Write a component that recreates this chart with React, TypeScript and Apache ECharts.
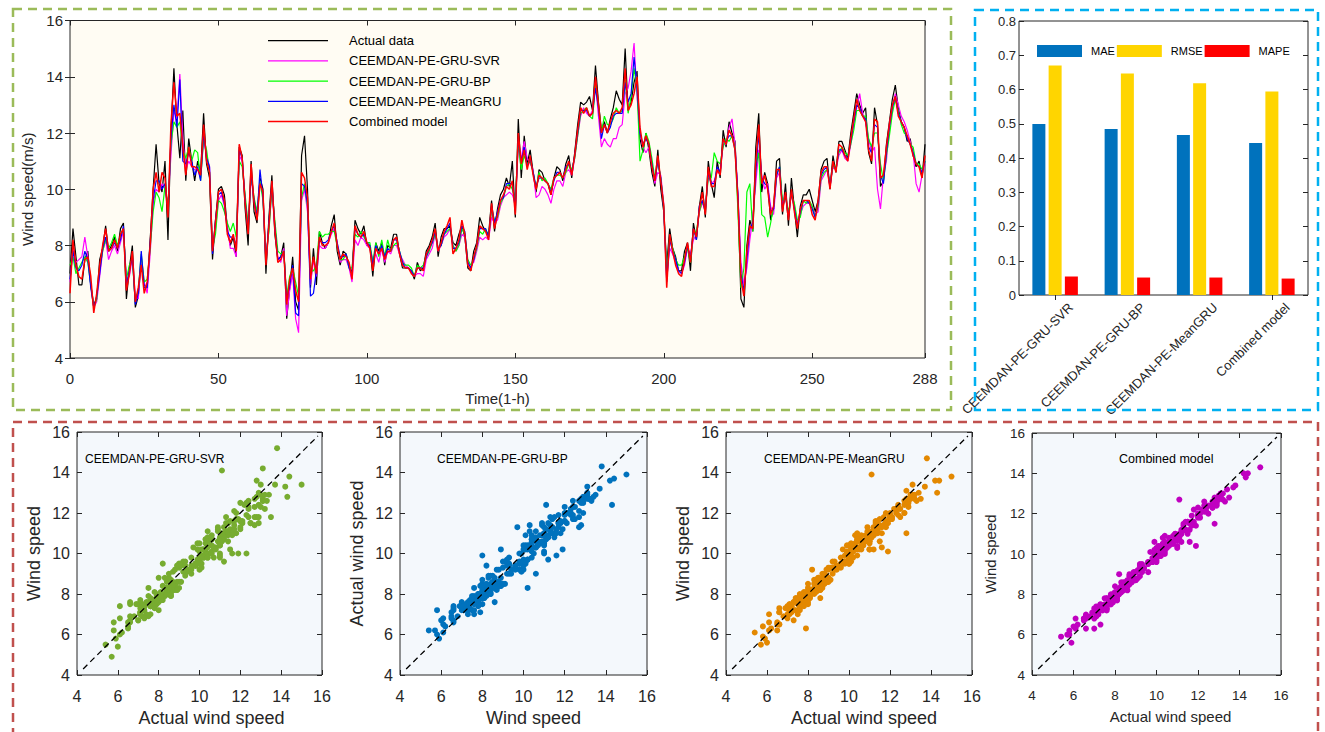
import React, { useEffect, useRef } from "react";
import * as echarts from "echarts";

// Hourly wind speed (m/s), test horizon t = 0..288
const actual = [
  7.0, 8.6, 7.6, 6.6, 6.6, 7.5, 7.8, 6.6, 5.9, 6.1,
  7.5, 7.9, 8.7, 7.8, 8.0, 8.3, 7.8, 8.6, 8.8, 6.1,
  7.2, 8.0, 5.8, 6.2, 7.4, 6.6, 6.5, 8.2, 10.0, 11.6,
  10.2, 9.9, 11.0, 8.2, 12.0, 14.3, 12.3, 11.1, 12.8, 10.3,
  11.8, 11.0, 10.3, 11.0, 10.6, 12.7, 10.9, 10.4, 7.5, 8.9,
  10.0, 10.1, 9.8, 8.6, 8.0, 8.3, 7.6, 11.5, 11.2, 9.3,
  8.0, 11.0, 9.2, 8.8, 10.4, 10.0, 7.0, 9.0, 10.5, 8.4,
  7.5, 7.6, 8.1, 5.4, 6.5, 7.6, 6.0, 5.7, 11.2, 11.9,
  10.0, 6.5, 7.9, 6.6, 8.5, 8.1, 7.9, 8.1, 8.7, 9.1,
  7.8, 7.3, 7.8, 7.7, 7.3, 7.0, 8.9, 8.6, 8.4, 8.7,
  8.0, 8.0, 6.9, 8.1, 7.8, 8.1, 7.3, 8.0, 7.9, 8.4,
  8.4, 7.7, 7.2, 7.2, 7.2, 7.1, 6.8, 7.4, 7.1, 7.2,
  7.8, 8.0, 8.3, 8.8, 7.6, 8.3, 8.6, 8.6, 8.7, 8.1,
  8.0, 8.4, 8.7, 8.3, 7.2, 7.1, 7.8, 8.1, 9.0, 8.7,
  8.5, 8.4, 9.6, 8.5, 9.3, 9.8, 10.0, 10.4, 10.1, 11.0,
  9.0, 12.5, 10.4, 11.9, 10.9, 11.4, 10.6, 9.9, 10.7, 10.6,
  10.3, 10.2, 9.8, 10.4, 10.8, 10.7, 10.3, 10.9, 11.2, 10.4,
  11.3, 12.3, 13.1, 13.0, 13.1, 13.3, 12.8, 14.4, 13.1, 12.1,
  12.4, 12.0, 12.5, 12.9, 13.5, 13.2, 13.0, 15.0, 12.8, 13.1,
  13.8, 14.2, 11.8, 11.3, 12.0, 11.4, 10.6, 10.1, 11.4, 10.0,
  9.2, 7.3, 8.6, 7.9, 7.6, 7.1, 7.1, 7.8, 8.1, 7.1,
  8.8, 8.2, 9.4, 10.1, 9.0, 11.0, 10.2, 9.7, 11.0, 10.4,
  12.1, 11.5, 12.4, 12.0, 11.7, 9.6, 6.1, 5.8, 8.0, 8.9,
  8.5, 11.5, 12.7, 9.9, 10.6, 10.2, 8.9, 9.3, 11.0, 11.1,
  9.1, 10.2, 8.7, 10.4, 9.3, 8.3, 9.4, 9.8, 9.8, 10.0,
  9.6, 9.2, 9.6, 10.7, 11.0, 11.1, 10.0, 11.2, 10.6, 11.7,
  11.7, 11.4, 11.1, 12.0, 12.7, 13.4, 13.0, 12.7, 12.9, 11.3,
  10.9, 12.9, 12.3, 10.1, 10.3, 11.6, 12.4, 13.2, 13.7, 12.9,
  12.4, 12.2, 11.7, 11.8, 11.2, 10.8, 11.0, 10.4, 11.6,
];

const svr = [
  6.7, 7.9, 7.4, 7.5, 7.6, 8.3, 7.6, 6.6, 5.8, 6.0,
  6.9, 7.8, 8.2, 7.5, 7.8, 8.0, 7.7, 8.1, 8.5, 6.8,
  6.9, 7.6, 6.2, 6.1, 7.6, 6.7, 6.3, 7.7, 9.5, 10.0,
  9.9, 10.2, 10.0, 9.5, 11.2, 12.8, 12.5, 14.1, 11.8, 10.7,
  11.0, 10.8, 10.7, 10.7, 10.4, 11.8, 11.2, 10.8, 7.9, 8.6,
  9.6, 9.8, 9.4, 8.7, 7.9, 7.9, 7.6, 11.2, 11.0, 9.6,
  8.8, 10.4, 9.6, 9.2, 10.3, 9.8, 7.5, 8.6, 10.0, 8.6,
  7.6, 7.4, 7.9, 5.5, 6.4, 7.0, 5.4, 4.9, 9.6, 10.0,
  9.2, 6.6, 7.5, 6.9, 8.0, 7.9, 7.9, 8.1, 8.4, 8.6,
  8.1, 7.4, 7.5, 7.5, 7.2, 6.7, 8.2, 8.0, 8.3, 8.2,
  8.0, 7.9, 7.5, 7.7, 7.4, 7.9, 7.4, 7.8, 7.7, 8.0,
  8.0, 7.7, 7.5, 7.3, 7.2, 7.1, 6.9, 7.0, 7.0, 6.9,
  7.5, 7.7, 7.9, 8.4, 7.8, 8.0, 8.3, 8.4, 8.6, 8.0,
  7.8, 8.0, 8.4, 8.3, 7.4, 7.3, 7.4, 7.8, 8.3, 8.2,
  8.3, 8.2, 9.0, 8.8, 8.9, 9.4, 9.7, 9.8, 9.9, 9.8,
  9.5, 11.5, 11.1, 11.7, 11.1, 10.9, 10.7, 9.7, 9.8, 10.1,
  10.0, 9.8, 9.5, 10.0, 10.3, 10.3, 10.1, 10.6, 10.7, 10.5,
  11.1, 11.9, 12.6, 12.9, 12.7, 12.6, 12.8, 13.8, 12.6, 11.5,
  11.8, 11.6, 11.5, 11.8, 11.8, 12.2, 12.3, 13.4, 13.6, 14.2,
  15.2, 13.3, 12.0, 11.5, 11.3, 11.5, 10.9, 10.2, 10.6, 10.5,
  9.5, 6.8, 7.9, 7.7, 7.4, 7.1, 7.0, 7.3, 7.9, 7.7,
  8.2, 8.4, 9.2, 9.5, 9.3, 10.5, 10.2, 10.3, 10.6, 10.6,
  11.6, 11.6, 12.2, 12.5, 11.6, 9.8, 7.4, 6.6, 7.2, 8.2,
  9.0, 10.2, 11.4, 10.5, 10.0, 10.2, 9.4, 9.1, 10.4, 10.6,
  9.4, 9.8, 9.1, 9.8, 9.4, 8.8, 9.1, 9.4, 9.5, 9.5,
  9.4, 9.1, 9.2, 10.3, 10.5, 10.7, 10.1, 10.8, 10.7, 11.2,
  11.4, 11.1, 11.0, 11.6, 12.3, 12.9, 13.4, 12.7, 12.4, 11.8,
  11.3, 11.5, 10.0, 9.3, 10.5, 11.0, 12.3, 12.9, 13.4, 13.0,
  12.6, 12.4, 12.1, 11.7, 11.3, 10.2, 9.9, 10.5, 10.9,
];

const bp = [
  7.3, 7.6, 7.0, 7.2, 7.4, 7.6, 7.4, 6.6, 5.8, 6.1,
  7.2, 7.8, 8.2, 7.9, 8.1, 8.4, 8.0, 8.3, 8.6, 6.8,
  7.3, 7.5, 6.0, 6.4, 7.7, 6.7, 6.8, 7.9, 9.2, 9.9,
  9.7, 9.2, 10.1, 9.4, 11.6, 12.4, 12.2, 12.4, 11.4, 11.1,
  11.5, 11.0, 11.4, 11.3, 10.3, 11.8, 11.4, 10.6, 7.9, 8.4,
  9.6, 9.5, 9.2, 8.8, 8.5, 8.8, 8.3, 11.0, 10.8, 9.8,
  8.7, 10.5, 9.7, 9.2, 10.3, 9.6, 7.6, 8.5, 10.0, 8.9,
  7.8, 7.7, 7.8, 6.2, 6.9, 7.2, 6.7, 6.2, 9.7, 10.2,
  9.4, 7.1, 7.1, 7.3, 8.5, 8.3, 8.4, 8.4, 8.5, 8.5,
  8.0, 7.5, 7.5, 7.7, 7.2, 7.2, 8.4, 8.3, 8.5, 8.3,
  8.1, 8.1, 7.4, 8.1, 7.6, 8.2, 7.6, 8.2, 7.8, 8.0,
  8.1, 7.8, 7.4, 7.3, 7.3, 7.2, 6.9, 7.3, 7.2, 7.3,
  7.6, 7.8, 8.1, 8.4, 7.9, 8.0, 8.4, 8.5, 8.6, 8.0,
  7.8, 8.0, 8.6, 8.4, 7.5, 7.3, 7.5, 7.9, 8.5, 8.4,
  8.6, 8.3, 9.3, 8.9, 9.0, 9.5, 9.7, 10.1, 10.2, 10.0,
  9.6, 11.7, 10.7, 11.2, 10.9, 11.0, 10.6, 10.0, 10.6, 10.3,
  10.4, 10.2, 10.0, 10.4, 10.5, 10.5, 10.4, 10.6, 10.9, 10.7,
  11.1, 11.9, 12.7, 12.8, 12.9, 12.6, 12.5, 13.7, 13.0, 12.0,
  12.6, 12.3, 12.3, 12.5, 12.9, 12.7, 12.8, 13.9, 12.7, 13.3,
  14.3, 13.6, 11.0, 11.4, 12.0, 11.7, 11.1, 10.4, 11.0, 10.4,
  9.4, 7.0, 8.3, 7.9, 7.5, 7.3, 7.3, 7.6, 7.9, 7.4,
  8.5, 8.5, 9.2, 9.6, 9.3, 10.4, 10.4, 11.3, 11.0, 10.9,
  11.5, 11.8, 11.7, 11.9, 11.5, 9.2, 6.5, 7.2, 9.9, 10.2,
  8.5, 10.8, 11.3, 9.1, 9.0, 8.3, 8.8, 9.4, 10.5, 10.8,
  9.6, 9.7, 9.2, 9.8, 9.5, 8.9, 9.0, 9.6, 9.5, 9.6,
  9.4, 9.0, 9.4, 10.4, 10.6, 10.7, 10.2, 10.8, 10.8, 11.3,
  11.5, 11.3, 11.2, 11.6, 12.1, 12.8, 12.8, 12.6, 12.6, 11.8,
  11.5, 12.0, 12.0, 10.9, 10.3, 11.2, 11.9, 12.7, 13.2, 12.8,
  12.3, 12.0, 11.9, 11.6, 11.5, 10.9, 10.9, 10.7, 11.0,
];

const meanGru = [
  6.8, 7.8, 7.2, 7.1, 7.3, 7.8, 7.5, 6.5, 5.8, 6.2,
  7.0, 7.9, 8.3, 7.8, 7.9, 8.1, 7.9, 8.2, 8.7, 6.6,
  7.1, 7.6, 5.9, 6.3, 7.8, 6.5, 6.5, 8.1, 9.6, 10.3,
  10.3, 10.0, 10.2, 9.2, 11.8, 13.0, 12.2, 13.9, 11.0, 10.9,
  11.3, 11.0, 10.5, 10.8, 10.3, 12.0, 11.1, 10.8, 7.7, 8.9,
  9.8, 9.9, 9.5, 8.5, 8.3, 8.3, 8.0, 11.4, 11.1, 9.6,
  8.5, 10.6, 9.6, 9.0, 10.7, 9.7, 7.4, 8.8, 10.2, 8.7,
  7.5, 7.6, 7.8, 6.1, 6.6, 7.3, 5.6, 5.5, 10.2, 10.1,
  9.5, 6.2, 6.3, 7.1, 8.2, 8.1, 8.1, 8.2, 8.5, 8.7,
  8.1, 7.6, 7.6, 7.7, 7.2, 7.0, 8.6, 8.4, 8.3, 8.4,
  8.1, 8.0, 7.3, 8.0, 7.7, 8.0, 7.6, 7.9, 7.8, 8.2,
  8.2, 7.8, 7.4, 7.2, 7.2, 7.1, 6.9, 7.2, 7.2, 7.2,
  7.6, 7.9, 8.1, 8.5, 7.9, 8.0, 8.4, 8.6, 8.8, 7.9,
  7.9, 8.1, 8.7, 8.5, 7.4, 7.2, 7.5, 8.0, 8.6, 8.6,
  8.6, 8.3, 9.4, 8.8, 9.2, 9.6, 9.7, 10.2, 10.2, 10.2,
  9.3, 11.8, 11.0, 11.5, 10.8, 11.1, 10.6, 10.1, 10.4, 10.4,
  10.3, 10.2, 9.9, 10.3, 10.6, 10.6, 10.4, 10.8, 10.9, 10.6,
  11.2, 12.0, 12.8, 12.8, 12.8, 12.6, 12.7, 13.6, 12.9, 11.8,
  12.3, 12.0, 12.2, 12.6, 12.7, 12.7, 12.7, 13.8, 13.1, 13.4,
  14.7, 13.6, 12.0, 11.6, 11.8, 11.6, 10.9, 10.3, 11.0, 10.4,
  9.3, 6.7, 8.2, 7.8, 7.5, 7.1, 7.0, 7.4, 8.0, 7.5,
  8.6, 8.2, 9.4, 9.6, 9.2, 10.6, 10.2, 10.2, 10.8, 10.6,
  11.7, 11.7, 11.9, 11.9, 11.4, 9.8, 7.0, 6.4, 7.5, 8.6,
  8.8, 10.6, 12.0, 10.4, 10.2, 10.1, 9.2, 9.3, 10.5, 10.8,
  9.3, 9.8, 9.0, 9.9, 9.3, 8.7, 9.2, 9.6, 9.6, 9.5,
  9.3, 9.0, 9.5, 10.5, 10.7, 10.8, 10.1, 10.9, 10.7, 11.4,
  11.4, 11.2, 11.1, 11.7, 12.4, 13.0, 12.9, 12.6, 12.5, 11.5,
  11.3, 12.3, 12.2, 10.5, 10.2, 11.3, 12.2, 12.9, 13.3, 12.7,
  12.4, 12.2, 11.8, 11.6, 11.3, 10.9, 10.8, 10.6, 11.0,
];

const combined = [
  6.3, 8.2, 7.3, 6.9, 6.8, 7.5, 7.6, 6.9, 5.6, 6.3,
  7.3, 8.0, 8.6, 7.8, 7.9, 8.2, 7.9, 8.4, 8.6, 6.4,
  7.0, 7.8, 6.0, 6.5, 7.3, 6.3, 6.7, 8.0, 10.0, 10.6,
  9.9, 10.6, 10.4, 9.0, 12.3, 13.8, 12.6, 12.7, 11.5, 10.5,
  11.5, 10.8, 10.8, 10.7, 10.5, 12.3, 11.0, 10.6, 7.8, 8.8,
  9.9, 10.0, 9.6, 8.4, 8.1, 8.4, 7.8, 11.6, 11.1, 9.5,
  8.4, 10.9, 9.5, 8.9, 10.2, 9.9, 7.3, 8.7, 10.3, 8.6,
  7.4, 7.5, 7.8, 5.9, 6.8, 7.2, 6.4, 6.0, 10.6, 10.4,
  9.7, 6.8, 7.6, 7.0, 8.3, 8.0, 8.0, 8.1, 8.5, 8.8,
  8.0, 7.5, 7.7, 7.6, 7.4, 6.8, 8.7, 8.4, 8.3, 8.5,
  8.1, 7.9, 7.1, 7.9, 7.7, 7.9, 7.5, 7.8, 7.8, 8.2,
  8.3, 7.7, 7.3, 7.2, 7.2, 7.0, 6.9, 7.2, 7.2, 7.1,
  7.7, 7.9, 8.2, 8.6, 7.8, 8.1, 8.5, 8.7, 9.0, 7.7,
  7.9, 8.2, 8.9, 8.4, 7.3, 7.1, 7.6, 8.0, 8.7, 8.6,
  8.5, 8.2, 9.5, 8.6, 9.1, 9.6, 9.8, 10.1, 10.0, 10.3,
  9.1, 12.0, 10.9, 11.4, 10.7, 11.2, 10.5, 10.0, 10.5, 10.4,
  10.3, 10.2, 9.8, 10.4, 10.5, 10.6, 10.4, 10.7, 11.0, 10.5,
  11.2, 12.1, 12.9, 12.7, 12.9, 12.6, 12.7, 14.0, 13.0, 12.0,
  12.3, 12.0, 12.4, 12.7, 12.8, 12.7, 12.9, 14.3, 12.8, 13.0,
  13.4, 14.0, 12.2, 11.5, 11.9, 11.6, 10.8, 10.3, 11.2, 10.3,
  9.4, 6.5, 8.4, 7.8, 7.3, 7.0, 6.9, 7.5, 8.1, 7.4,
  8.6, 8.3, 9.3, 9.9, 9.1, 10.8, 10.1, 10.1, 10.7, 10.5,
  11.8, 11.6, 12.1, 11.9, 11.4, 9.6, 6.8, 6.2, 7.8, 8.7,
  8.6, 11.0, 12.3, 10.2, 10.5, 10.0, 9.1, 9.4, 10.7, 10.7,
  9.2, 9.9, 8.9, 10.0, 9.2, 8.6, 9.3, 9.6, 9.6, 9.6,
  9.1, 8.9, 9.6, 10.6, 10.8, 10.8, 10.0, 11.0, 10.6, 11.6,
  11.5, 11.2, 11.0, 11.8, 12.5, 13.2, 12.8, 12.6, 12.4, 11.4,
  11.0, 12.5, 12.4, 10.4, 10.5, 11.5, 12.3, 13.0, 13.3, 12.6,
  12.4, 12.2, 11.9, 11.6, 11.2, 10.9, 10.8, 10.4, 11.2,
];

const seriesNames = [
  "Actual data",
  "CEEMDAN-PE-GRU-SVR",
  "CEEMDAN-PE-GRU-BP",
  "CEEMDAN-PE-MeanGRU",
  "Combined model",
];
const lineColors = ["#000000", "#FF00FF", "#00FF00", "#0000FF", "#FF0000"];

// Error metrics per model
const modelNames = ["CEEMDAN-PE-GRU-SVR", "CEEMDAN-PE-GRU-BP", "CEEMDAN-PE-MeanGRU", "Combined model"];
const maeValues = [0.499, 0.485, 0.467, 0.444];
const rmseValues = [0.67, 0.647, 0.618, 0.594];
const mapeValues = [0.054, 0.051, 0.051, 0.048];

const timeTicks = [0, 50, 100, 150, 200, 250, 288];

const FONT = "'Liberation Sans', Arial, Helvetica, sans-serif";
const INK = "#262626";

type AxisOpts = {
  gridIndex: number;
  min: number;
  max: number;
  interval?: number;
  position: string;
  labels: boolean;
  fontSize?: number;
  margin?: number;
  name?: string;
  nameGap?: number;
  nameSize?: number;
  namePad?: number[];
  custom?: number[];
  formatter?: (v: number) => string;
};

function valueAxis(o: AxisOpts) {
  const tick: any = { show: true, inside: true, length: 5, lineStyle: { color: INK, width: 1 } };
  const label: any = {
    show: o.labels,
    fontFamily: FONT,
    fontSize: o.fontSize ?? 14,
    color: INK,
    margin: o.margin ?? 8,
  };
  if (o.custom) {
    tick.customValues = o.custom;
    label.customValues = o.custom;
  }
  if (o.formatter) label.formatter = o.formatter;
  const ax: any = {
    type: "value",
    gridIndex: o.gridIndex,
    min: o.min,
    max: o.max,
    position: o.position,
    axisLine: { show: false },
    axisTick: tick,
    axisLabel: label,
    splitLine: { show: false },
  };
  if (o.interval !== undefined) ax.interval = o.interval;
  if (o.name) {
    ax.name = o.name;
    ax.nameLocation = "middle";
    ax.nameGap = o.nameGap;
    ax.nameTextStyle = { fontFamily: FONT, fontSize: o.nameSize, color: INK, padding: o.namePad ?? 0 };
  }
  return ax;
}

// Scatter panels: grid box, predictions, colour, caption and axis names
const panels = [
  { box: [77, 432, 245, 243], pred: svr, color: "#77AC30", title: "CEEMDAN-PE-GRU-SVR", tx: 85,
    xName: "Actual wind speed", yName: "Wind speed", tick: 16, nameSize: 18, xShift: 24 },
  { box: [400, 432, 247, 243], pred: bp, color: "#0072BD", title: "CEEMDAN-PE-GRU-BP", tx: 437,
    xName: "Wind speed", yName: "Actual wind speed", tick: 16, nameSize: 18, xShift: 20 },
  { box: [726, 432, 246, 243], pred: meanGru, color: "#E38800", title: "CEEMDAN-PE-MeanGRU", tx: 764,
    xName: "Actual wind speed", yName: "Wind speed", tick: 16, nameSize: 18, xShift: 30 },
  { box: [1032, 433, 249, 242], pred: combined, color: "#C000C0", title: "Combined model", tx: 1119,
    xName: "Actual wind speed", yName: "Wind speed", tick: 13.5, nameSize: 15, xShift: 28 },
];

function buildOption() {
  const grids: any[] = [
    { left: 70, top: 20.5, width: 855, height: 337.5, show: true, backgroundColor: "#FFFCF3", borderColor: INK, borderWidth: 1 },
    { left: 1019, top: 21, width: 289, height: 274, show: true, backgroundColor: "#FFFFFF", borderColor: INK, borderWidth: 1 },
  ];
  panels.forEach((p) => {
    grids.push({ left: p.box[0], top: p.box[1], width: p.box[2], height: p.box[3], show: true,
      backgroundColor: "#F4F8FC", borderColor: INK, borderWidth: 1 });
  });

  const xAxes: any[] = [
    valueAxis({ gridIndex: 0, min: 0, max: 288, position: "bottom", labels: true, fontSize: 15, margin: 13,
      custom: timeTicks, name: "Time(1-h)", nameGap: 33, nameSize: 15 }),
    valueAxis({ gridIndex: 0, min: 0, max: 288, position: "top", labels: false, custom: timeTicks }),
    {
      type: "category", gridIndex: 1, data: modelNames, position: "bottom",
      axisLine: { show: false },
      axisTick: { show: true, inside: true, alignWithLabel: true, length: 5, lineStyle: { color: INK } },
      axisLabel: { rotate: 45, fontFamily: FONT, fontSize: 13, color: INK, margin: 6, interval: 0,
        verticalAlign: "top", lineHeight: 28, padding: [0, -8, 0, 0] },
    },
    {
      type: "category", gridIndex: 1, data: modelNames, position: "top",
      axisLine: { show: false },
      axisTick: { show: true, inside: true, alignWithLabel: true, length: 5, lineStyle: { color: INK } },
      axisLabel: { show: false },
    },
  ];
  const yAxes: any[] = [
    valueAxis({ gridIndex: 0, min: 4, max: 16, interval: 2, position: "left", labels: true, fontSize: 15, margin: 7,
      name: "Wind speed(m/s)", nameGap: 27, nameSize: 15 }),
    valueAxis({ gridIndex: 0, min: 4, max: 16, interval: 2, position: "right", labels: false }),
    valueAxis({ gridIndex: 1, min: 0, max: 0.8, interval: 0.1, position: "left", labels: true, fontSize: 13, margin: 3,
      formatter: (v: number) => (v === 0 ? "0" : v.toFixed(1)) }),
    valueAxis({ gridIndex: 1, min: 0, max: 0.8, interval: 0.1, position: "right", labels: false }),
  ];

  panels.forEach((p, i) => {
    const g = i + 2;
    xAxes.push(valueAxis({ gridIndex: g, min: 4, max: 16, interval: 2, position: "bottom", labels: true,
      fontSize: p.tick, margin: 13, name: p.xName, nameGap: 34, nameSize: p.nameSize, namePad: [0, 0, 0, p.xShift] }));
    yAxes.push(valueAxis({ gridIndex: g, min: 4, max: 16, interval: 2, position: "left", labels: true,
      fontSize: p.tick, margin: 7, name: p.yName, nameGap: 34, nameSize: p.nameSize }));
  });
  panels.forEach((_, i) => {
    const g = i + 2;
    xAxes.push(valueAxis({ gridIndex: g, min: 4, max: 16, interval: 2, position: "top", labels: false }));
    yAxes.push(valueAxis({ gridIndex: g, min: 4, max: 16, interval: 2, position: "right", labels: false }));
  });

  const lineData = [actual, svr, bp, meanGru, combined];
  const series: any[] = lineData.map((arr, i) => ({
    type: "line",
    name: seriesNames[i],
    xAxisIndex: 0,
    yAxisIndex: 0,
    data: arr.map((v, t) => [t, v]),
    showSymbol: false,
    symbol: "none",
    lineStyle: { color: lineColors[i], width: i === 4 ? 1.5 : 1.2 },
    itemStyle: { color: lineColors[i] },
    z: 2 + i,
  }));

  const barSets = [
    { name: "MAE", data: maeValues, color: "#0072BD" },
    { name: "RMSE", data: rmseValues, color: "#FFD500" },
    { name: "MAPE", data: mapeValues, color: "#FF0000" },
  ];
  barSets.forEach((b) => {
    series.push({
      type: "bar", name: b.name, xAxisIndex: 2, yAxisIndex: 2, data: b.data,
      barWidth: 13, barGap: "25%", itemStyle: { color: b.color },
    });
  });

  panels.forEach((p, i) => {
    series.push({
      type: "scatter",
      name: "points-" + i,
      xAxisIndex: 4 + i,
      yAxisIndex: 4 + i,
      data: actual.map((a, k) => [a, p.pred[k]]),
      symbolSize: 6,
      itemStyle: { color: p.color, opacity: 1 },
      z: 2,
    });
    series.push({
      type: "line",
      name: "diag-" + i,
      xAxisIndex: 4 + i,
      yAxisIndex: 4 + i,
      data: [[4.3, 4.3], [15.8, 15.8]],
      symbol: "none",
      lineStyle: { color: "#000000", width: 1.3, type: [6, 4] },
      z: 5,
      silent: true,
    });
  });

  const dashed = (x: number, y: number, w: number, h: number, color: string) => ({
    type: "rect",
    shape: { x, y, width: w, height: h },
    style: { fill: "none", stroke: color, lineWidth: 2.5, lineDash: [9, 6] },
    silent: true,
    z: 100,
  });

  const graphics: any[] = [
    dashed(13, 9, 938, 401, "#9BBB59"),
    dashed(975, 10, 343, 400, "#00B0F0"),
    dashed(13, 422, 1305, 330, "#C0504D"),
  ];

  // Line legend: a short stroke per series and its name
  seriesNames.forEach((name, i) => {
    const y = 40.7 + 20.2 * i;
    graphics.push({
      type: "line",
      shape: { x1: 268, y1: y, x2: 328, y2: y },
      style: { stroke: lineColors[i], lineWidth: i === 4 ? 1.5 : 1.2 },
      silent: true,
      z: 100,
    });
    graphics.push({
      type: "text",
      x: 349,
      y,
      style: { text: name, fill: "#000000", fontFamily: FONT, fontSize: 13, verticalAlign: "middle" },
      silent: true,
      z: 100,
    });
  });

  panels.forEach((p) => {
    graphics.push({
      type: "text",
      x: p.tx,
      y: 459,
      style: { text: p.title, fill: "#000000", fontFamily: FONT, fontSize: p.tick < 15 ? 12.5 : 12, verticalAlign: "middle" },
      z: 100,
    });
  });

  return {
    animation: false,
    backgroundColor: "#FFFFFF",
    grid: grids,
    xAxis: xAxes,
    yAxis: yAxes,
    legend: [
      {
        data: ["MAE", "RMSE", "MAPE"],
        orient: "horizontal",
        left: 1037,
        top: 45,
        padding: 0,
        icon: "rect",
        itemWidth: 45,
        itemHeight: 12,
        itemGap: 2,
        textStyle: { fontFamily: FONT, fontSize: 11, color: "#000000", padding: [0, 0, 0, 4] },
        selectedMode: false,
      },
    ],
    series,
    graphic: graphics,
  };
}

export default function App() {
  const ref = useRef<HTMLDivElement>(null);
  useEffect(() => {
    if (!ref.current) return;
    const chart = echarts.init(ref.current, undefined, { renderer: "svg" });
    chart.setOption(buildOption() as any);
    return () => chart.dispose();
  }, []);
  return (
    <div
      ref={ref}
      style={{ position: "absolute", left: 0, top: 0, width: 1325, height: 732, background: "#FFFFFF" }}
    />
  );
}
